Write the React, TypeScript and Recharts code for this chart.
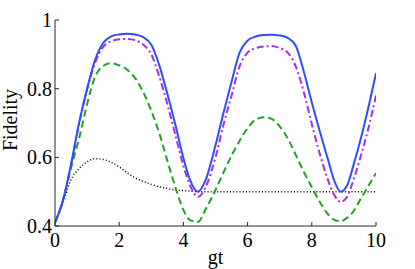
import React from 'react';
import { LineChart, Line, XAxis, YAxis } from 'recharts';

const gt = [
  0, 0.25, 0.5, 0.75, 1, 1.25, 1.5, 1.75, 2, 2.25, 2.5, 2.75, 3, 3.25, 3.5, 3.75,
  4, 4.2, 4.45, 4.7, 5, 5.25, 5.5, 5.75, 6, 6.25, 6.5, 6.75, 7, 7.25, 7.5,
  7.75, 8, 8.25, 8.5, 8.7, 8.9, 9.1, 9.3, 9.5, 9.75, 10,
];

const fidelitySolid = [
  0.41, 0.475, 0.58, 0.7, 0.8, 0.884, 0.933, 0.952, 0.958, 0.96, 0.958, 0.95, 0.928, 0.868, 0.785, 0.695,
  0.598, 0.536, 0.5, 0.536, 0.635, 0.73, 0.82, 0.905, 0.94, 0.952, 0.956, 0.957, 0.955, 0.948, 0.925,
  0.85, 0.76, 0.675, 0.595, 0.532, 0.5, 0.518, 0.578, 0.645, 0.74, 0.845,
];

const fidelityDashDot = [
  0.41, 0.475, 0.578, 0.698, 0.797, 0.876, 0.922, 0.938, 0.944, 0.945, 0.941, 0.928, 0.9, 0.835, 0.755, 0.665,
  0.575, 0.52, 0.485, 0.515, 0.6, 0.695, 0.78, 0.865, 0.905, 0.918, 0.923, 0.924, 0.918, 0.905, 0.865,
  0.79, 0.697, 0.61, 0.535, 0.49, 0.47, 0.485, 0.535, 0.595, 0.68, 0.78,
];

const fidelityDashed = [
  0.41, 0.475, 0.57, 0.655, 0.755, 0.835, 0.866, 0.874, 0.868, 0.855, 0.83, 0.79, 0.735, 0.67, 0.59, 0.513,
  0.447, 0.418, 0.412, 0.45, 0.505, 0.556, 0.605, 0.648, 0.685, 0.71, 0.717, 0.712, 0.69, 0.655, 0.607,
  0.558, 0.513, 0.47, 0.435, 0.418, 0.414, 0.424, 0.443, 0.475, 0.515, 0.554,
];

const fidelityDotted = [
  0.41, 0.468, 0.535, 0.567, 0.587, 0.596, 0.594, 0.585, 0.572, 0.555, 0.54, 0.53, 0.521, 0.514, 0.509, 0.505,
  0.503, 0.502, 0.5, 0.5, 0.5, 0.5, 0.5, 0.5, 0.5, 0.5, 0.5, 0.5, 0.5, 0.5, 0.5,
  0.5, 0.5, 0.5, 0.5, 0.5, 0.5, 0.5, 0.5, 0.5, 0.5, 0.5,
];

const xTicks = [0, 2, 4, 6, 8, 10];
const yTicks = [0.4, 0.6, 0.8, 1];

const data = gt.map((t, i) => ({
  t,
  solid: fidelitySolid[i],
  dashDot: fidelityDashDot[i],
  dashed: fidelityDashed[i],
  dotted: fidelityDotted[i],
}));

const FONT = '"Liberation Serif", "Times New Roman", serif';
const AXIS = '#262626';

const BottomTick = (props: any) => {
  const { x, y, payload } = props;
  return (
    <g>
      <line x1={x} y1={y} x2={x} y2={y - 4} stroke={AXIS} strokeWidth={1} />
      <text x={x} y={y + 21} textAnchor="middle" fontFamily={FONT} fontSize={20} fill="#000">
        {payload.value}
      </text>
    </g>
  );
};

const LeftTick = (props: any) => {
  const { x, y, payload } = props;
  return (
    <g>
      <line x1={x} y1={y} x2={x + 4} y2={y} stroke={AXIS} strokeWidth={1} />
      <text x={x - 3} y={y + 7} textAnchor="end" fontFamily={FONT} fontSize={20} fill="#000">
        {payload.value}
      </text>
    </g>
  );
};

const TopTick = (props: any) => {
  const { x, y } = props;
  return <line x1={x} y1={y} x2={x} y2={y + 4} stroke={AXIS} strokeWidth={1} />;
};

const RightTick = (props: any) => {
  const { x, y } = props;
  return <line x1={x} y1={y} x2={x - 4} y2={y} stroke={AXIS} strokeWidth={1} />;
};

export default function App() {
  return (
    <div style={{ position: 'absolute', left: 0, top: 0, width: 415, height: 269, background: '#fff' }}>
      <LineChart
        width={415}
        height={269}
        data={data}
        margin={{ top: 20, right: 39, bottom: 0, left: 0 }}
      >
        <XAxis
          dataKey="t"
          type="number"
          domain={[0, 10]}
          ticks={xTicks}
          height={43}
          tickSize={0}
          tickMargin={0}
          tickLine={false}
          axisLine={{ stroke: AXIS, strokeWidth: 1 }}
          tick={<BottomTick />}
          interval={0}
          allowDataOverflow
        />
        <XAxis
          xAxisId="top"
          dataKey="t"
          type="number"
          orientation="top"
          domain={[0, 10]}
          ticks={xTicks}
          height={0}
          tickSize={0}
          tickMargin={0}
          tickLine={false}
          axisLine={{ stroke: AXIS, strokeWidth: 1 }}
          tick={<TopTick />}
          interval={0}
          allowDataOverflow
        />
        <YAxis
          type="number"
          domain={[0.4, 1]}
          ticks={yTicks}
          width={55}
          tickSize={0}
          tickMargin={0}
          tickLine={false}
          axisLine={{ stroke: AXIS, strokeWidth: 1 }}
          tick={<LeftTick />}
          interval={0}
          allowDataOverflow
        />
        <YAxis
          yAxisId="right"
          type="number"
          orientation="right"
          domain={[0.4, 1]}
          ticks={yTicks}
          width={0}
          tickSize={0}
          tickMargin={0}
          tickLine={false}
          axisLine={{ stroke: AXIS, strokeWidth: 1 }}
          tick={<RightTick />}
          interval={0}
          allowDataOverflow
        />
        <Line
          dataKey="dotted"
          type="monotone"
          stroke="#000000"
          strokeWidth={1.5}
          strokeDasharray="1 2.2"
          dot={false}
          isAnimationActive={false}
        />
        <Line
          dataKey="dashed"
          type="monotone"
          stroke="#1fa21f"
          strokeWidth={2}
          strokeDasharray="7 4"
          dot={false}
          isAnimationActive={false}
        />
        <Line
          dataKey="dashDot"
          type="monotone"
          stroke="#a52cf2"
          strokeWidth={2}
          strokeDasharray="7 3 2 3"
          dot={false}
          isAnimationActive={false}
        />
        <Line
          dataKey="solid"
          type="monotone"
          stroke="#2f4cff"
          strokeWidth={2}
          dot={false}
          isAnimationActive={false}
        />
        <text x={215.5} y={264} textAnchor="middle" fontFamily={FONT} fontSize={20} fill="#000">
          gt
        </text>
        <text
          x={17}
          y={120}
          textAnchor="middle"
          fontFamily={FONT}
          fontSize={20}
          fill="#000"
          transform="rotate(-90, 17, 120)"
        >
          Fidelity
        </text>
      </LineChart>
    </div>
  );
}
